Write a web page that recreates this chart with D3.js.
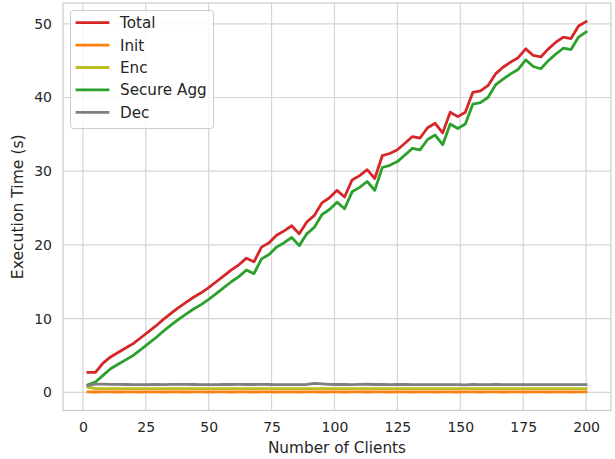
<!DOCTYPE html>
<html>
<head>
<meta charset="utf-8">
<script src="https://cdn.jsdelivr.net/npm/d3@7/dist/d3.min.js"></script>
<style>
  html, body { margin: 0; padding: 0; background: #ffffff; }
  svg { display: block; font-family: "DejaVu Sans", sans-serif; }
</style>
</head>
<body>
<svg id="chart" width="615" height="459"></svg>
<script>
const clients = [2,5,8,11,14,17,20,23,26,29,32,35,38,41,44,47,50,53,56,59,62,65,68,71,74,77,80,83,86,89,92,95,98,101,104,107,110,113,116,119,122,125,128,131,134,137,140,143,146,149,152,155,158,161,164,167,170,173,176,179,182,185,188,191,194,197,200];

const total = [2.7,2.7,3.95,4.8,5.4,6.0,6.6,7.4,8.2,9.0,9.9,10.7,11.5,12.2,12.9,13.5,14.2,15.0,15.8,16.6,17.3,18.2,17.7,19.7,20.3,21.3,21.9,22.6,21.5,23.1,24.0,25.7,26.4,27.4,26.5,28.8,29.4,30.2,29.0,32.1,32.4,32.9,33.8,34.7,34.5,35.9,36.5,35.2,38.0,37.4,38.0,40.7,40.9,41.6,43.2,44.1,44.8,45.4,46.6,45.7,45.5,46.6,47.5,48.2,48.0,49.7,50.3];

const init = [0.05,0.04,0.05,0.05,0.04,0.05,0.05,0.04,0.05,0.05,0.04,0.05,0.05,0.04,0.05,0.05,0.04,0.05,0.05,0.04,0.05,0.05,0.04,0.05,0.05,0.04,0.05,0.05,0.04,0.05,0.05,0.04,0.05,0.05,0.04,0.05,0.05,0.04,0.05,0.05,0.04,0.05,0.05,0.04,0.05,0.05,0.04,0.05,0.05,0.04,0.05,0.05,0.04,0.05,0.05,0.04,0.05,0.05,0.04,0.05,0.05,0.04,0.05,0.05,0.04,0.05,0.05];

const enc = [0.7,0.5,0.49,0.5,0.49,0.5,0.5,0.49,0.5,0.5,0.49,0.5,0.5,0.49,0.5,0.5,0.49,0.5,0.5,0.49,0.5,0.5,0.49,0.5,0.5,0.49,0.5,0.5,0.49,0.5,0.51,0.5,0.5,0.49,0.5,0.5,0.49,0.5,0.5,0.49,0.5,0.5,0.49,0.5,0.5,0.49,0.5,0.5,0.49,0.5,0.5,0.49,0.5,0.5,0.49,0.5,0.5,0.49,0.5,0.5,0.49,0.5,0.5,0.49,0.5,0.5,0.49];

const secureAgg = [1.0,1.4,2.3,3.2,3.8,4.4,5.0,5.8,6.6,7.4,8.3,9.1,9.9,10.6,11.3,11.9,12.6,13.4,14.2,15.0,15.7,16.6,16.1,18.1,18.7,19.7,20.3,21.0,19.9,21.5,22.4,24.1,24.8,25.8,24.9,27.2,27.8,28.6,27.4,30.5,30.8,31.3,32.2,33.1,32.9,34.3,34.9,33.6,36.4,35.8,36.4,39.1,39.3,40.0,41.7,42.5,43.2,43.8,45.1,44.2,43.9,45.0,45.9,46.7,46.5,48.2,48.9];

const dec = [0.95,1.1,1.12,1.08,1.07,1.06,1.05,1.05,1.05,1.06,1.05,1.07,1.08,1.07,1.06,1.05,1.05,1.05,1.06,1.06,1.07,1.06,1.06,1.07,1.06,1.05,1.05,1.05,1.04,1.06,1.2,1.13,1.08,1.06,1.07,1.05,1.08,1.09,1.06,1.08,1.05,1.07,1.06,1.05,1.05,1.04,1.05,1.04,1.04,1.03,1.02,1.06,1.05,1.04,1.06,1.05,1.04,1.04,1.05,1.04,1.03,1.03,1.03,1.03,1.04,1.04,1.04];

const seriesNames = ["Total","Init","Enc","Secure Agg","Dec"];
const seriesData = [total, init, enc, secureAgg, dec];
const seriesColors = ["#d62728","#ff7f0e","#bcbd22","#2ca02c","#7f7f7f"];

const xTicks = [0,25,50,75,100,125,150,175,200];
const yTicks = [0,10,20,30,40,50];

const svg = d3.select("#chart");
const L = 63, R = 611, T = 3, B = 410.5;

const x = d3.scaleLinear().domain([-7.9, 209.9]).range([L, R]);
const y = d3.scaleLinear().domain([-2.47, 52.82]).range([B, T]);

const textColor = "#262626";
const gridColor = "#d5d5d5";

// grid
const g = svg.append("g");
g.selectAll("line.gx").data(xTicks).enter().append("line")
  .attr("x1", d => x(d)).attr("x2", d => x(d)).attr("y1", T).attr("y2", B)
  .attr("stroke", gridColor).attr("stroke-width", 1.2);
g.selectAll("line.gy").data(yTicks).enter().append("line")
  .attr("y1", d => y(d)).attr("y2", d => y(d)).attr("x1", L).attr("x2", R)
  .attr("stroke", gridColor).attr("stroke-width", 1.2);

// axes using d3 axis (no tick marks)
const xAxis = d3.axisBottom(x).tickValues(xTicks).tickSize(0).tickPadding(12).tickFormat(d3.format("d"));
const yAxis = d3.axisLeft(y).tickValues(yTicks).tickSize(0).tickPadding(11).tickFormat(d3.format("d"));
const xa = svg.append("g").attr("transform", `translate(0,${B})`).call(xAxis);
const ya = svg.append("g").attr("transform", `translate(${L},0)`).call(yAxis);
[xa, ya].forEach(a => {
  a.select(".domain").remove();
  a.selectAll("text").attr("fill", textColor).style("font-size", "14px").style("font-family", "DejaVu Sans");
});

// lines
const line = d3.line().x((d, i) => x(clients[i])).y(d => y(d));
seriesData.forEach((s, k) => {
  svg.append("path").datum(s)
    .attr("d", line)
    .attr("fill", "none")
    .attr("stroke", seriesColors[k])
    .attr("stroke-width", 2.8)
    .attr("stroke-linejoin", "round")
    .attr("stroke-linecap", "square");
});

// frame
svg.append("rect").attr("x", L).attr("y", T).attr("width", R - L).attr("height", B - T)
  .attr("fill", "none").attr("stroke", "#cccccc").attr("stroke-width", 1.2);

// axis labels
svg.append("text").attr("x", (L + R) / 2).attr("y", 453)
  .attr("text-anchor", "middle").attr("fill", textColor)
  .style("font-size", "15.3px").text("Number of Clients");
svg.append("text").attr("transform", `translate(23,${(T + B) / 2}) rotate(-90)`)
  .attr("text-anchor", "middle").attr("fill", textColor)
  .style("font-size", "15.6px").text("Execution Time (s)");

// legend
const lg = svg.append("g");
lg.append("rect").attr("x", 70.5).attr("y", 10.5).attr("width", 143).attr("height", 118)
  .attr("rx", 3).attr("fill", "#ffffff").attr("fill-opacity", 0.8)
  .attr("stroke", "#cccccc").attr("stroke-width", 1);
seriesNames.forEach((n, k) => {
  const yy = 22.7 + k * 22.4;
  lg.append("line").attr("x1", 77).attr("x2", 108).attr("y1", yy).attr("y2", yy)
    .attr("stroke", seriesColors[k]).attr("stroke-width", 2.8).attr("stroke-linecap", "square");
  lg.append("text").attr("x", 120).attr("y", yy).attr("dy", "0.36em")
    .attr("fill", textColor).style("font-size", "15.2px").text(n);
});
</script>
</body>
</html>
